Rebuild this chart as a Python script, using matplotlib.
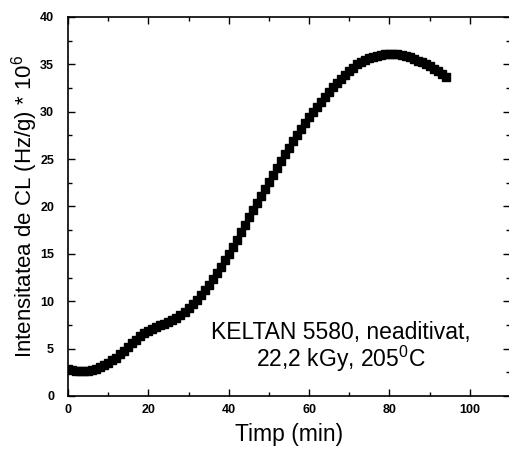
import matplotlib
matplotlib.use('Agg')
import matplotlib.pyplot as plt
from matplotlib.ticker import MultipleLocator

plt.rcParams['font.family'] = ['Liberation Sans', 'DejaVu Sans']

# time (min) and chemiluminescence intensity (Hz/g * 1e6)
timp = list(range(0, 95))
intensitate = [
    2.80, 2.70, 2.65, 2.60, 2.60, 2.62, 2.72, 2.90, 3.05, 3.25,
    3.50, 3.75, 4.05, 4.40, 4.75, 5.15, 5.55, 5.95, 6.30, 6.65,
    6.90, 7.10, 7.30, 7.45, 7.60, 7.80, 8.00, 8.25, 8.55, 8.90,
    9.30, 9.70, 10.15, 10.65, 11.15, 11.70, 12.30, 12.95, 13.60, 14.30,
    15.00, 15.75, 16.50, 17.30, 18.05, 18.85, 19.60, 20.35, 21.10, 21.85,
    22.60, 23.35, 24.10, 24.80, 25.50, 26.20, 26.90, 27.55, 28.20, 28.80,
    29.40, 29.95, 30.50, 31.05, 31.60, 32.10, 32.60, 33.05, 33.50, 33.90,
    34.30, 34.65, 35.00, 35.25, 35.50, 35.65, 35.80, 35.90, 36.00, 36.05,
    36.10, 36.10, 36.10, 36.00, 35.90, 35.75, 35.60, 35.40, 35.20, 35.00,
    34.80, 34.55, 34.30, 34.00, 33.70,
]

fig = plt.figure(figsize=(5.1, 4.55), dpi=100)
ax = fig.add_axes([0.1333, 0.1297, 0.8667, 0.8330])

ax.plot(timp, intensitate, linestyle='none', marker='s', markersize=5.3,
        color='black')

ax.set_xlim(0, 110)
ax.set_ylim(0, 40)
ax.xaxis.set_major_locator(MultipleLocator(20))
ax.xaxis.set_minor_locator(MultipleLocator(10))
ax.yaxis.set_major_locator(MultipleLocator(5))
ax.yaxis.set_minor_locator(MultipleLocator(2.5))
ax.tick_params(which='both', direction='in', top=True, right=True,
               labelsize=9, width=1)
ax.tick_params(which='major', length=5)
ax.tick_params(which='minor', length=3)
ax.tick_params(axis='x', pad=6)
ax.tick_params(axis='y', pad=10)
for lab in ax.get_xticklabels() + ax.get_yticklabels():
    lab.set_fontweight('bold')
for sp in ax.spines.values():
    sp.set_linewidth(1.2)

ax.set_xlabel('Timp (min)', fontsize=16.5, labelpad=5)
ax.set_ylabel('Intensitatea de CL (Hz/g) * 10$^\\mathregular{6}$', fontsize=16)
ax.yaxis.set_label_coords(-0.064, 0.5)

ax.text(68, 5.1, 'KELTAN 5580, neaditivat,\n22,2 kGy, 205$^\\mathregular{0}$C',
        fontsize=16.5, ha='center', va='center', linespacing=1.0)

fig.savefig('out.png', dpi=100)
